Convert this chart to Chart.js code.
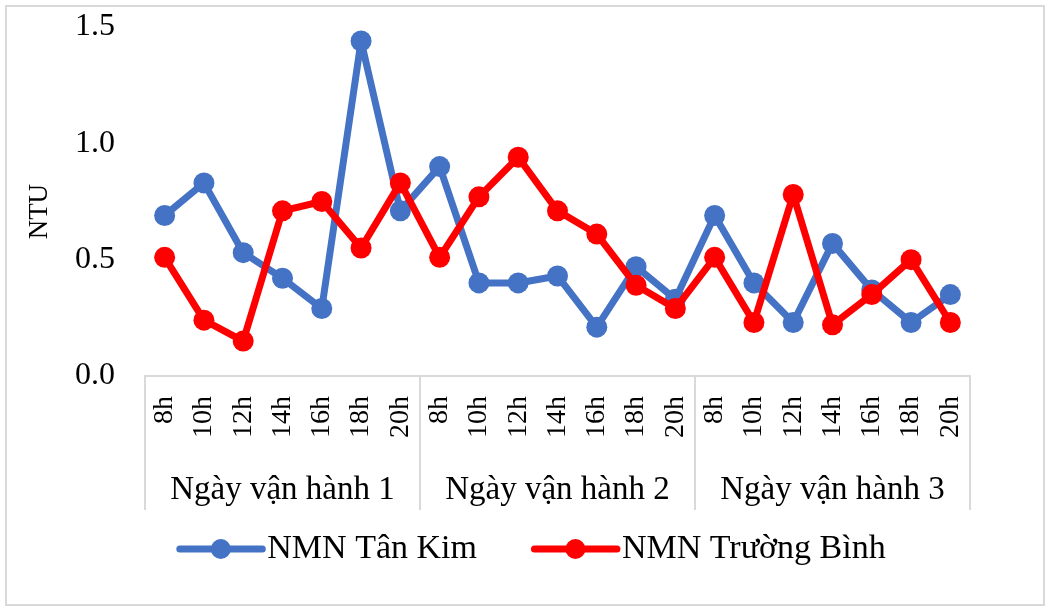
<!DOCTYPE html>
<html>
<head>
<meta charset="utf-8">
<script src="https://cdn.jsdelivr.net/npm/chart.js@4/dist/chart.umd.min.js"></script>
<style>
  html, body { margin: 0; padding: 0; background: #fff; }
  #wrap { position: relative; width: 1050px; height: 610px; }
  #frame { position: absolute; left: 5px; top: 5px; width: 1036px; height: 597px; border: 2px solid #d9d9d9; pointer-events: none; }
  canvas { position: absolute; left: 0; top: 0; }
</style>
</head>
<body>
<div id="wrap">
  <canvas id="c" width="1050" height="610"></canvas>
  <div id="frame"></div>
</div>
<script>
// ---- data ----
const hours = ["8h", "10h", "12h", "14h", "16h", "18h", "20h"];
const groups = ["Ngày vận hành 1", "Ngày vận hành 2", "Ngày vận hành 3"];
const seriesNames = ["NMN Tân Kim", "NMN Trường Bình"];
const tanKim = [0.69, 0.83, 0.53, 0.42, 0.29, 1.44, 0.71,
                0.90, 0.40, 0.40, 0.43, 0.21, 0.47, 0.33,
                0.69, 0.40, 0.23, 0.57, 0.37, 0.23, 0.35];
const truongBinh = [0.51, 0.24, 0.15, 0.71, 0.75, 0.55, 0.83,
                    0.51, 0.77, 0.94, 0.71, 0.61, 0.39, 0.29,
                    0.51, 0.23, 0.78, 0.22, 0.35, 0.50, 0.23];
const yTicks = [0, 0.5, 1.0, 1.5];
const yTitle = "NTU";

const FONT = "'Liberation Serif', 'Times New Roman', serif";
const BLUE = "#4472C4";
const RED = "#FF0000";
const GRID = "#d9d9d9";
const LEG_BOX = 74;

const labels = groups.flatMap(() => hours);

const groupPlugin = {
  id: 'groupPlugin',
  afterDraw(chart) {
    const ctx = chart.ctx;
    const x = chart.scales.x;
    const n = hours.length;
    const half = (x.getPixelForValue(1) - x.getPixelForValue(0)) / 2;
    const top = x.top;
    const sepBottom = x.top + 134;
    ctx.save();
    ctx.strokeStyle = GRID;
    ctx.lineWidth = 2;
    for (let g = 0; g <= groups.length; g++) {
      const idx = g * n;
      const px = g < groups.length ? x.getPixelForValue(idx) - half : x.getPixelForValue(idx - 1) + half;
      ctx.beginPath();
      ctx.moveTo(Math.round(px), top);
      ctx.lineTo(Math.round(px), sepBottom);
      ctx.stroke();
    }
    ctx.fillStyle = "#000";
    ctx.font = "33px " + FONT;
    ctx.textAlign = "center";
    ctx.textBaseline = "middle";
    groups.forEach((g, i) => {
      const cx = (x.getPixelForValue(i * n) + x.getPixelForValue(i * n + n - 1)) / 2;
      ctx.fillText(g, cx, x.top + 114);
    });
    // legend line + marker symbols
    const lg = chart.legend;
    if (lg && lg.legendHitBoxes) {
      lg.legendItems.forEach((item, i) => {
        const hb = lg.legendHitBoxes[i];
        const cy = hb.top + hb.height / 2;
        ctx.strokeStyle = item.color;
        ctx.lineWidth = 7;
        ctx.lineCap = 'round';
        ctx.beginPath();
        ctx.moveTo(hb.left + 3.5, cy);
        ctx.lineTo(hb.left + LEG_BOX + 12, cy);
        ctx.stroke();
        ctx.fillStyle = item.color;
        ctx.beginPath();
        ctx.arc(hb.left + (LEG_BOX + 15) / 2, cy, 10, 0, Math.PI * 2);
        ctx.fill();
      });
    }
    ctx.restore();
  }
};

new Chart(document.getElementById('c'), {
  type: 'line',
  data: {
    labels: labels,
    datasets: [
      {
        label: seriesNames[0], data: tanKim, order: 1,
        borderColor: BLUE, backgroundColor: BLUE,
        borderWidth: 7, pointRadius: 10.5, pointBorderWidth: 0,
        pointBackgroundColor: BLUE, borderJoinStyle: 'round', borderCapStyle: 'round',
        tension: 0, fill: false
      },
      {
        label: seriesNames[1], data: truongBinh, order: 0,
        borderColor: RED, backgroundColor: RED,
        borderWidth: 7, pointRadius: 10.5, pointBorderWidth: 0,
        pointBackgroundColor: RED, borderJoinStyle: 'round', borderCapStyle: 'round',
        tension: 0, fill: false
      }
    ]
  },
  options: {
    responsive: false,
    animation: false,
    devicePixelRatio: 1,
    layout: { padding: { left: 12, right: 0, top: 27, bottom: 34 } },
    plugins: {
      tooltip: { enabled: false },
      legend: {
        position: 'bottom',
        labels: {
          font: { family: FONT, size: 34 },
          color: '#000',
          boxWidth: LEG_BOX,
          boxHeight: 7,
          padding: 54,
          sort: (a, b) => a.datasetIndex - b.datasetIndex,
          generateLabels(chart) {
            const items = Chart.defaults.plugins.legend.labels.generateLabels(chart);
            items.forEach(it => {
              const ds = chart.data.datasets[it.datasetIndex];
              it.color = ds.borderColor;
              it.fillStyle = 'rgba(0,0,0,0)';
              it.strokeStyle = 'rgba(0,0,0,0)';
              it.lineWidth = 0;
            });
            return items;
          }
        }
      }
    },
    scales: {
      x: {
        type: 'category',
        offset: true,
        grid: { display: false, drawTicks: false, offset: true },
        border: { display: true, color: GRID, width: 2 },
        ticks: {
          autoSkip: false,
          minRotation: 90,
          maxRotation: 90,
          padding: 20,
          color: '#000',
          font: { family: FONT, size: 28 }
        },
        afterFit(scale) { scale.height = 102; }
      },
      y: {
        min: 0,
        max: 1.5,
        afterBuildTicks(scale) { scale.ticks = yTicks.map(v => ({ value: v })); },
        grid: { display: false, drawTicks: true, tickLength: 30 },
        border: { display: false },
        ticks: {
          padding: 0,
          color: '#000',
          font: { family: FONT, size: 32 },
          callback: v => Number(v).toFixed(1)
        },
        title: {
          display: true,
          text: yTitle + "\u2002 ",
          color: '#000',
          font: { family: FONT, size: 27 },
          padding: { top: 12, bottom: 0 }
        },
        afterFit(scale) { scale.width = 133; }
      },
      yRight: {
        position: 'right',
        display: true,
        min: 0,
        max: 1.5,
        grid: { display: false, drawTicks: false },
        border: { display: false },
        ticks: { display: false },
        afterFit(scale) { scale.width = 80; }
      }
    }
  },
  plugins: [groupPlugin]
});
</script>
</body>
</html>
